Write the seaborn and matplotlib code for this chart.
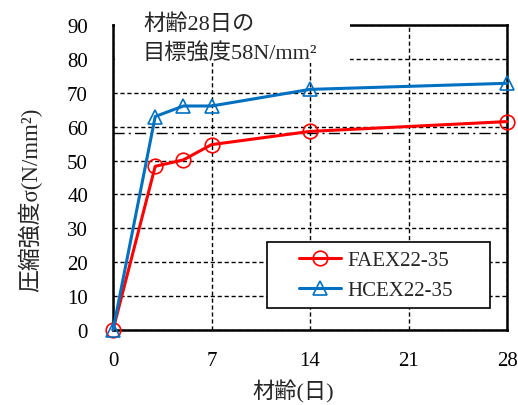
import matplotlib
matplotlib.use("Agg")
import matplotlib.pyplot as plt
from matplotlib.patches import Rectangle
import seaborn as sns
import pandas as pd

# Compressive strength by age
age_fa = [0, 3, 5, 7, 14, 28]
strength_fa = [0, 48.3, 50.2, 54.7, 58.6, 61.5]
age_hc = [0, 3, 5, 7, 14, 28]
strength_hc = [0, 63.0, 66.1, 66.1, 71.0, 72.8]
series_names = ["FAEX22-35", "HCEX22-35"]
target_strength = 58
x_ticks = [0, 7, 14, 21, 28]
y_ticks = [0, 10, 20, 30, 40, 50, 60, 70, 80, 90]

sns.set_style("white")
plt.rcParams["font.family"] = ["Liberation Serif", "Noto Sans CJK JP"]

df = pd.concat([
    pd.DataFrame({"age": age_fa, "strength": strength_fa, "series": series_names[0]}),
    pd.DataFrame({"age": age_hc, "strength": strength_hc, "series": series_names[1]}),
])

W, H = 518, 406
fig = plt.figure(figsize=(W / 100, H / 100), dpi=100)
ax = fig.add_axes([113 / W, 1 - 331 / H, 394 / W, 305 / H])

palette = {series_names[0]: "#FF0000", series_names[1]: "#0070C0"}
markers = {series_names[0]: "o", series_names[1]: "^"}
sns.lineplot(data=df, x="age", y="strength", hue="series", style="series",
             palette=palette, markers=markers, dashes=False, linewidth=2.2,
             markersize=10.5, markeredgewidth=1.2,
             ax=ax, zorder=4, clip_on=False, legend=True)
for line in ax.get_lines():
    line.set_markerfacecolor("none")
    line.set_markeredgecolor(line.get_color())

# Target strength at 28 days
ax.axhline(target_strength, color="black", linestyle=(0, (8, 3, 1.5, 3)), linewidth=1.0, zorder=2)

ax.set_xlim(0, 28)
ax.set_ylim(0, 90)
ax.set_xticks(x_ticks)
ax.set_yticks(y_ticks)
ax.tick_params(axis="both", direction="in", length=6, width=1.5, labelsize=15,
               colors="black")
ax.tick_params(axis="y", pad=18)
ax.tick_params(axis="x", pad=15)
ax.grid(True, color="black", linestyle=(0, (3, 2)), linewidth=1.0)
ax.set_axisbelow(True)
for s in ax.spines.values():
    s.set_color("black")
    s.set_linewidth(1.8)

ax.set_xlabel("材齢(日)", fontsize=16, color="#262626")
ax.set_ylabel("圧縮強度σ(N/mm²)", fontsize=16.5, color="#262626")
ax.xaxis.set_label_coords((293 - 113) / 394, (331 - 392) / 305)
ax.xaxis.label.set_va("center")
ax.yaxis.set_label_coords((30 - 113) / 394, (331 - 200) / 305)
ax.yaxis.label.set_va("center")

# Note panel in the upper-left corner
ax.add_patch(Rectangle((0.006, 78.8 / 90), (350 - 115) / 394, 0.3,
                       transform=ax.transAxes, facecolor="white", edgecolor="none",
                       clip_on=False, zorder=3))
ax.text(30 / 394, 1.037, "材齢28日の\n目標強度58N/mm²", transform=ax.transAxes,
        fontsize=16, va="top", ha="left", linespacing=1.45, zorder=5, color="#262626")

# Legend with a wide rectangular frame
ax.add_patch(Rectangle(((267 - 113) / 394, (331 - 309) / 305), 223 / 394, 66 / 305,
                       transform=ax.transAxes, facecolor="white", edgecolor="black",
                       linewidth=1.2, zorder=4.5))
leg = ax.legend(loc="center", bbox_to_anchor=((376 - 113) / 394, (331 - 276) / 305),
                fontsize=15, frameon=False, handlelength=2.0, handletextpad=0.3,
                borderpad=0, borderaxespad=0, labelspacing=0.5)
leg.set_zorder(6)
for t in leg.get_texts():
    t.set_color("#262626")

fig.savefig("out.png", dpi=100)
